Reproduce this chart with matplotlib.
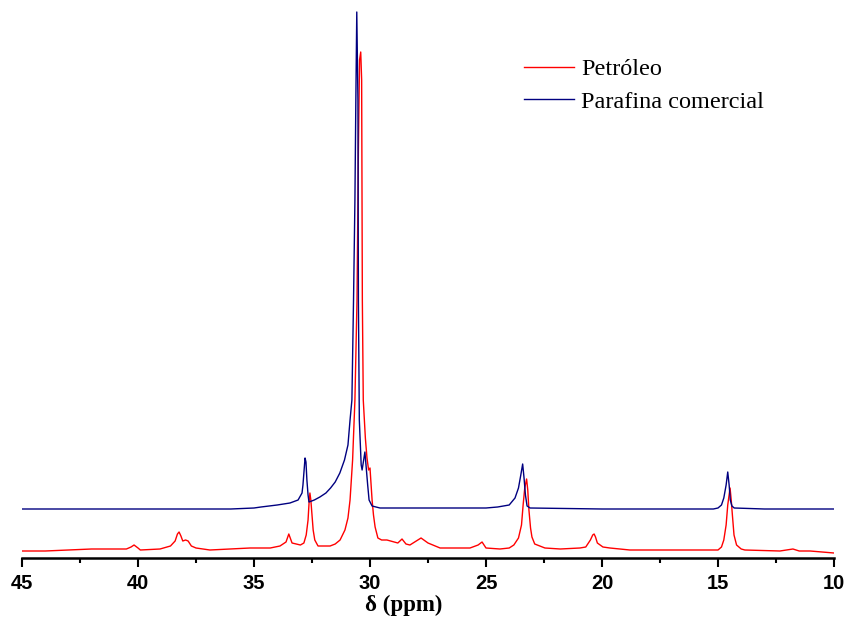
import matplotlib.pyplot as plt

# traced 13C NMR spectra, intensity in arbitrary units
petroleo_ppm = [45.0, 44.0, 43.0, 42.0, 41.0, 40.5, 40.3, 40.17, 40.0, 39.9,
                39.05, 38.6, 38.4, 38.3, 38.23, 38.15, 38.07, 37.95, 37.84, 37.7,
                37.5, 36.9, 35.17, 34.3, 33.88, 33.62, 33.5, 33.36, 33.0, 32.85,
                32.75, 32.67, 32.62, 32.59, 32.55, 32.5, 32.45, 32.38, 32.24, 31.72,
                31.5, 31.29, 31.08, 30.95, 30.86, 30.75, 30.65, 30.56, 30.50, 30.45,
                30.40, 30.36, 30.33, 30.29, 30.2, 30.13, 30.06, 30.0, 29.91, 29.85,
                29.78, 29.66, 29.5, 29.27, 28.8, 28.62, 28.45, 28.28, 27.8, 27.5,
                26.98, 25.69, 25.34, 25.17, 25.0, 24.4, 24.0, 23.8, 23.6, 23.47,
                23.4, 23.33, 23.25, 23.2, 23.15, 23.08, 23.02, 22.9, 22.46, 21.8,
                20.95, 20.7, 20.5, 20.4, 20.34, 20.28, 20.2, 19.96, 19.66, 18.8,
                15.78, 15.0, 14.85, 14.75, 14.65, 14.58, 14.48, 14.43, 14.38, 14.31,
                14.2, 14.0, 13.84, 12.33, 11.77, 11.5, 11.03, 10.0]
petroleo_int = [7, 7, 8, 9, 9, 9, 11, 13, 10, 8,
                9, 12, 17, 24, 26, 22, 17, 18, 17, 12,
                10, 8, 10, 10, 12, 16, 24, 15, 13, 15,
                23, 38, 58, 65, 58, 43, 28, 18, 12, 12,
                14, 18, 28, 40, 58, 98, 158, 258, 408, 498,
                506, 478, 258, 158, 120, 100, 88, 90, 58, 43,
                31, 20, 18, 18, 15, 19, 14, 13, 20, 15,
                10, 10, 13, 16, 10, 9, 10, 13, 20, 33,
                53, 70, 79, 68, 48, 30, 21, 14, 10, 9,
                10, 11, 18, 23, 24, 21, 15, 11, 10, 8,
                8, 8, 11, 18, 33, 53, 70, 58, 43, 23,
                13, 9, 8, 7, 9, 7, 7, 5]

parafina_ppm = [45.0, 42.0, 40.0, 36.0, 35.0, 34.7, 34.0, 33.45, 33.1, 32.93,
                32.89, 32.84, 32.80, 32.76, 32.72, 32.67, 32.63, 32.4, 32.16, 31.9,
                31.7, 31.5, 31.3, 31.1, 30.95, 30.86, 30.78, 30.71, 30.65, 30.61,
                30.57, 30.52, 30.50, 30.46, 30.38, 30.34, 30.22, 30.1, 30.04, 29.91,
                29.57, 25.0, 24.5, 24.0, 23.75, 23.6, 23.5, 23.42, 23.36, 23.3,
                23.23, 23.1, 20.0, 15.2, 15.0, 14.85, 14.75, 14.65, 14.58, 14.52,
                14.47, 14.4, 14.3, 13.0, 10.0]
parafina_int = [49, 49, 49, 49, 50, 51, 53, 55, 58, 65,
                73, 88, 100, 96, 78, 63, 56, 58, 61, 65,
                70, 76, 85, 98, 113, 138, 158, 258, 358, 458,
                546, 458, 258, 138, 93, 88, 106, 73, 58, 52,
                50, 50, 51, 53, 60, 70, 83, 94, 80, 63,
                52, 50, 49, 49, 50, 53, 60, 73, 86, 73,
                58, 52, 50, 49, 49]

xticks_major = [45, 40, 35, 30, 25, 20, 15, 10]
xticks_minor = [42.5, 37.5, 32.5, 27.5, 22.5, 17.5, 12.5]

fig = plt.figure(figsize=(8.59, 6.18), dpi=100)
ax = fig.add_axes([22 / 859, 60 / 618, 812 / 859, 550 / 618])

ax.plot(petroleo_ppm, petroleo_int, color="#ff0000", lw=1.0, label="Petróleo")
ax.plot(parafina_ppm, parafina_int, color="#000080", lw=1.0, label="Parafina comercial")

ax.set_xlim(45, 10)
ax.set_ylim(0, 550)
for s in ["left", "top", "right"]:
    ax.spines[s].set_visible(False)
ax.spines["bottom"].set_linewidth(1.8)
ax.set_yticks([])
ax.set_xticks(xticks_major)
ax.set_xticks(xticks_minor, minor=True)
ax.tick_params(axis="x", which="major", direction="out", length=6.5, width=1.5, pad=5)
ax.tick_params(axis="x", which="minor", direction="out", length=3.5, width=1.5)
for lbl in ax.get_xticklabels():
    lbl.set_fontfamily("Liberation Sans")
    lbl.set_fontweight("bold")
    lbl.set_fontsize(14.5)

ax.set_xlabel("δ (ppm)", family="Liberation Serif", fontweight="bold", fontsize=16.5)
ax.xaxis.set_label_coords((404 - 22) / 812, -37 / 550)

ax.legend(loc="upper left", bbox_to_anchor=(524 / 859, 1 - 58 / 618),
          bbox_transform=fig.transFigure, frameon=False,
          prop={"family": "Liberation Serif", "size": 17.5},
          handlelength=2.05, handletextpad=0.3, labelspacing=0.45, borderaxespad=0,
          borderpad=0)

fig.savefig("out.png", dpi=100)
